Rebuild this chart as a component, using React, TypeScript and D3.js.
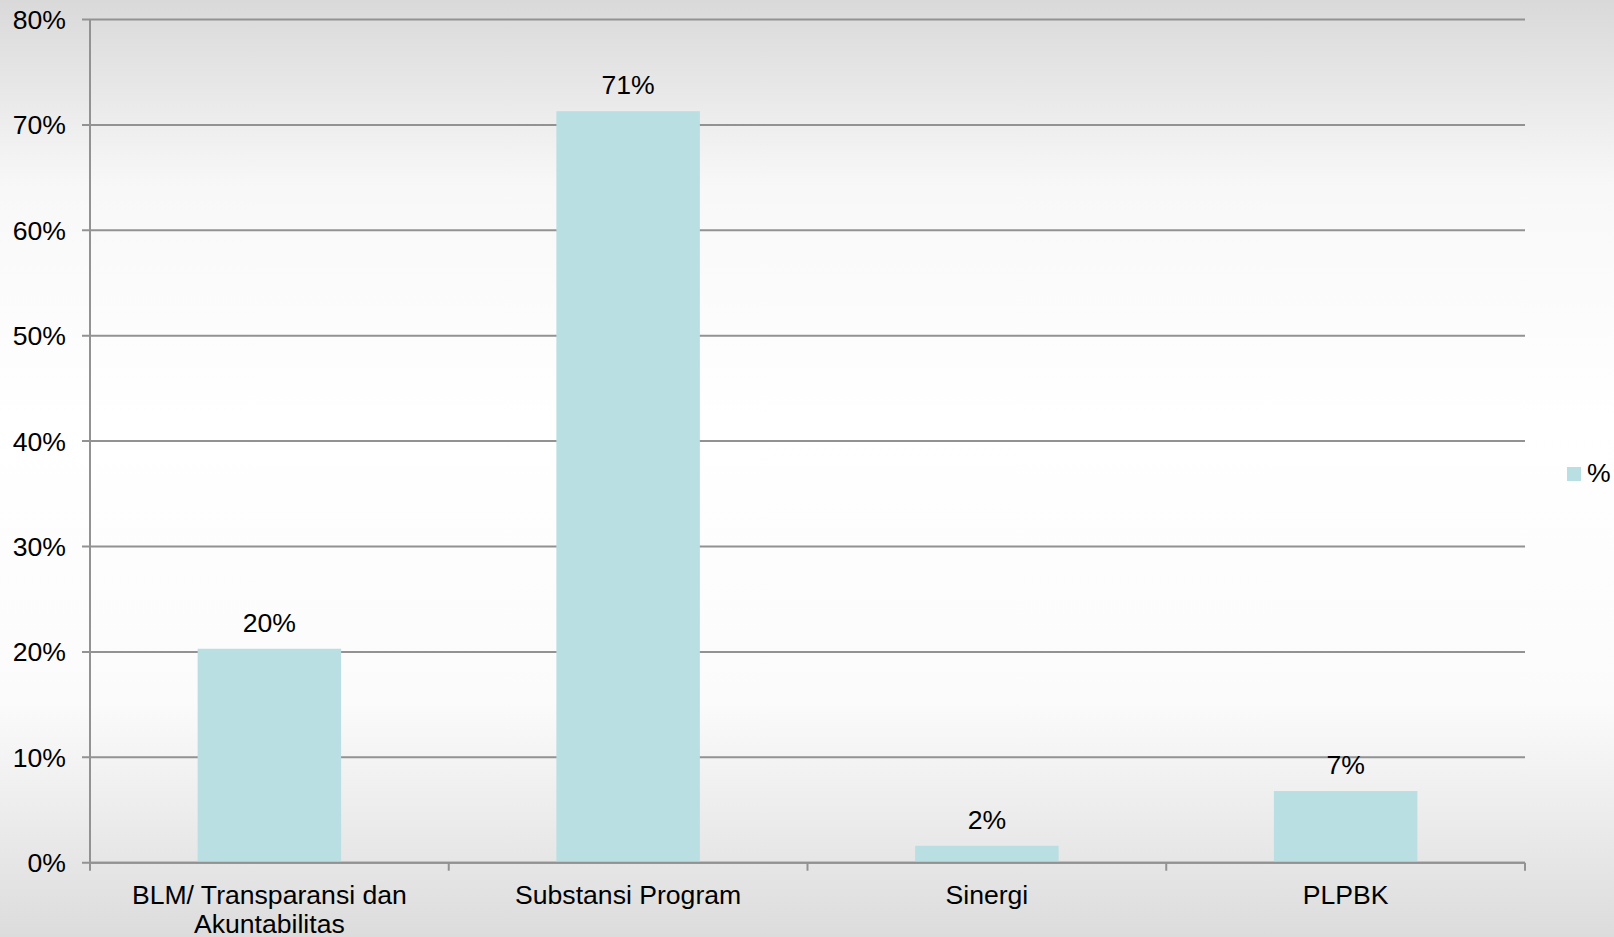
import React from "react";
import * as d3 from "d3";

const categories: string[][] = [
  ["BLM/ Transparansi dan", "Akuntabilitas"],
  ["Substansi Program"],
  ["Sinergi"],
  ["PLPBK"],
];
const values: number[] = [0.203, 0.713, 0.016, 0.068];
const valueLabels: string[] = ["20%", "71%", "2%", "7%"];
const yTicks: number[] = [0, 0.1, 0.2, 0.3, 0.4, 0.5, 0.6, 0.7, 0.8];
const seriesName = "%";

const W = 1614;
const H = 937;
const margin = { left: 90, right: 89, top: 19.5, bottom: 74.3 };
const FONT = "'Liberation Sans', Arial, sans-serif";
const FS = 26.6;

export default function App() {
  const x0 = margin.left;
  const x1 = W - margin.right;
  const y0 = H - margin.bottom;
  const y1 = margin.top;
  const idx = categories.map((_, i) => String(i));
  const x = d3.scaleBand<string>().domain(idx).range([x0, x1]).paddingInner(0.6).paddingOuter(0.3);
  const xOuter = d3.scaleBand<string>().domain(idx).range([x0, x1]);
  const y = d3.scaleLinear().domain([0, 0.8]).range([y0, y1]);
  const fmt = d3.format(".0%");
  const gridColor = "#929292";

  return (
    <div style={{ position: "fixed", left: 0, top: 0, width: W, height: H }}>
      <svg width={W} height={H} style={{ display: "block" }} fontFamily={FONT}>
        <defs>
          <linearGradient id="bg" x1="0" y1="0" x2="0" y2="1">
            <stop offset="0" stopColor="#d9d9d9" />
            <stop offset="0.2" stopColor="#f8f8f8" />
            <stop offset="0.45" stopColor="#ffffff" />
            <stop offset="0.75" stopColor="#fbfbfb" />
            <stop offset="1" stopColor="#dcdcdc" />
          </linearGradient>
        </defs>
        <rect x={0} y={0} width={W} height={H} fill="url(#bg)" />
        {yTicks.map((t) => (
          <g key={t}>
            <line x1={x0 - 8} x2={x1} y1={y(t)} y2={y(t)} stroke={gridColor} strokeWidth={2} />
            <text x={66} y={y(t) + 9.5} textAnchor="end" fontSize={FS} fill="#000">
              {fmt(t)}
            </text>
          </g>
        ))}
        <line x1={x0} x2={x0} y1={y1} y2={y0 + 8} stroke={gridColor} strokeWidth={2} />
        {idx.map((k) => (
          <line key={k} x1={(xOuter(k) as number) + xOuter.bandwidth()} x2={(xOuter(k) as number) + xOuter.bandwidth()} y1={y0} y2={y0 + 8} stroke={gridColor} strokeWidth={2} />
        ))}
        {values.map((v, i) => (
          <rect key={i} x={x(String(i))} y={y(v)} width={x.bandwidth()} height={y0 - y(v)} fill="#badfe2" />
        ))}
        <line x1={x0} x2={x1} y1={y0} y2={y0} stroke={gridColor} strokeWidth={2} />
        {values.map((v, i) => (
          <text key={i} x={(x(String(i)) as number) + x.bandwidth() / 2} y={y(v) - 17} textAnchor="middle" fontSize={FS} fill="#000">
            {valueLabels[i]}
          </text>
        ))}
        {categories.map((lines, i) => (
          <text key={i} x={(xOuter(String(i)) as number) + xOuter.bandwidth() / 2} y={904} textAnchor="middle" fontSize={FS} fill="#000">
            {lines.map((l, j) => (
              <tspan key={j} x={(xOuter(String(i)) as number) + xOuter.bandwidth() / 2} dy={j === 0 ? 0 : 29}>
                {l}
              </tspan>
            ))}
          </text>
        ))}
        <rect x={1567} y={467} width={14} height={14} fill="#badfe2" />
        <text x={1587} y={482} fontSize={FS} fill="#000">{seriesName}</text>
      </svg>
    </div>
  );
}
